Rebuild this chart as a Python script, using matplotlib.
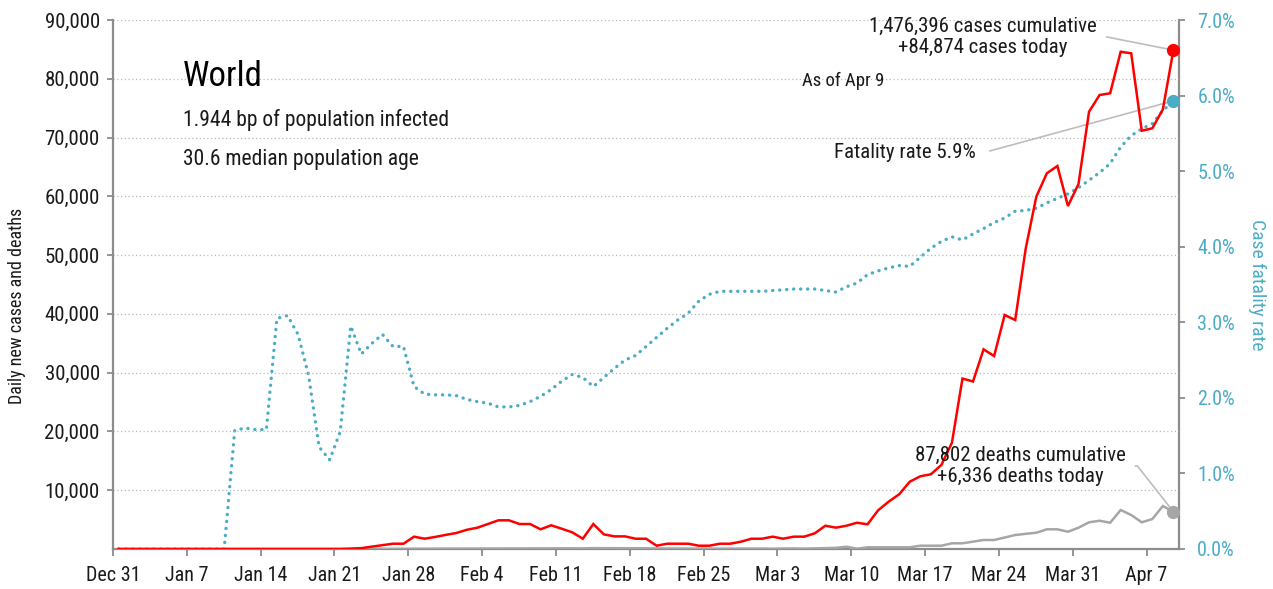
import matplotlib
matplotlib.use("Agg")
import matplotlib.pyplot as plt
from matplotlib import font_manager as fm
import pandas as pd

# pick a condensed sans if one is installed, otherwise Roboto
_cond = []
for f in fm.fontManager.ttflist:
    st = f.stretch
    is_cond = (isinstance(st, str) and 'condensed' in st) or (isinstance(st, (int, float)) and st < 500)
    if is_cond or 'Condensed' in f.name or 'Narrow' in f.name:
        if 'Mono' not in f.name and 'Serif' not in f.name and 'CJK' not in f.name:
            _cond.append((f.name, st))
_pref = ['Roboto Condensed', 'Liberation Sans Narrow', 'Noto Sans', 'DejaVu Sans', 'Open Sans']
FAMILY, STRETCH, SCALE = 'Roboto', 'normal', 0.93
for p in _pref:
    hits = [c for c in _cond if c[0] == p or c[0].startswith(p)]
    if hits:
        FAMILY, STRETCH, SCALE = hits[0][0], hits[0][1], 1.0
        break
plt.rcParams['font.family'] = [FAMILY, 'Roboto', 'DejaVu Sans']
plt.rcParams['font.stretch'] = STRETCH

# ---------------- data ----------------
dates = pd.date_range('2019-12-31 13:00', periods=101, freq='D')

new_cases = [0] * 22 + [
    60, 150, 400, 650, 900, 900, 2100, 1750, 2050, 2400,
    2720, 3270, 3620, 4250, 4880, 4880, 4250, 4250, 3350, 4030,
    3450, 2840, 1750, 4250, 2490, 2150, 2150, 1750, 1750, 560,
    900, 900, 900, 560, 560, 900, 900, 1250, 1750, 1750,
    2100, 1750, 2100, 2100, 2670, 3960, 3630, 3960, 4470, 4200,
    6580, 8050, 9310, 11450, 12370, 12710, 14290, 18080, 29000, 28500,
    33970, 32830, 39810, 38960, 51150, 59930, 63920, 65160, 58350, 62100,
    74400, 77240, 77530, 84600, 84330, 71160, 71570, 74800, 84874]

new_deaths = [0] * 22 + [
    10, 15, 20, 25, 30, 40, 45, 50, 60, 60,
    65, 70, 75, 80, 90, 95, 100, 100, 110, 110,
    120, 120, 100, 150, 140, 140, 130, 130, 120, 100,
    90, 80, 70, 60, 60, 50, 60, 70, 60, 80,
    50, 80, 100, 60, 110, 150, 200, 390, 50, 290,
    290, 290, 290, 290, 560, 560, 560, 970, 970, 1250,
    1530, 1530, 1950, 2380, 2580, 2770, 3350, 3350, 2940, 3620,
    4540, 4810, 4470, 6630, 5780, 4540, 5100, 7310, 6336]

fatality_pct = [0] * 11 + [
    1.57, 1.60, 1.58, 1.58, 3.05, 3.09, 2.84, 2.30, 1.35, 1.18,
    1.55, 2.95, 2.58, 2.72, 2.84, 2.68, 2.68, 2.15, 2.05, 2.04,
    2.04, 2.03, 1.98, 1.95, 1.93, 1.88, 1.88, 1.90, 1.95, 2.02,
    2.11, 2.22, 2.31, 2.27, 2.15, 2.27, 2.39, 2.50, 2.56, 2.68,
    2.80, 2.92, 3.03, 3.12, 3.28, 3.37, 3.41, 3.41, 3.41, 3.41,
    3.41, 3.42, 3.43, 3.44, 3.44, 3.44, 3.42, 3.40, 3.47, 3.52,
    3.63, 3.68, 3.72, 3.75, 3.74, 3.86, 3.98, 4.07, 4.13, 4.09,
    4.17, 4.24, 4.32, 4.38, 4.47, 4.48, 4.51, 4.58, 4.64, 4.70,
    4.78, 4.88, 4.98, 5.10, 5.32, 5.47, 5.56, 5.63, 5.80, 5.93]

tick_dates = pd.date_range('2019-12-31', periods=15, freq='7D')
tick_labels = ['Dec 31', 'Jan 7', 'Jan 14', 'Jan 21', 'Jan 28', 'Feb 4', 'Feb 11',
               'Feb 18', 'Feb 25', 'Mar 3', 'Mar 10', 'Mar 17', 'Mar 24', 'Mar 31', 'Apr 7']
left_ticks = [10000, 20000, 30000, 40000, 50000, 60000, 70000, 80000, 90000]
right_ticks = [0, 1, 2, 3, 4, 5, 6, 7]

cum_cases = "1,476,396"
cum_deaths = "87,802"

# ---------------- style ----------------
RED = '#ff0000'
BLUE = '#4bacc6'
GRAY = '#a6a6a6'
AXIS = '#8c8c8c'
TXT = '#1a1a1a'
S = SCALE

W, H = 1273, 589
fig = plt.figure(figsize=(W / 100, H / 100), dpi=100)
ax = fig.add_axes([113 / W, 1 - 549 / H, (1179.3 - 113) / W, (549 - 20) / H])
ax2 = ax.twinx()

ax.set_zorder(2)
ax.patch.set_visible(False)
ax2.set_zorder(1)

ax.plot(dates, new_deaths, color=GRAY, lw=1.8, zorder=3, solid_joinstyle='miter')
ax.plot(dates, new_cases, color=RED, lw=1.8, zorder=4, solid_joinstyle='miter')
ax.plot(dates[-1:], new_cases[-1:], 'o', color=RED, ms=8.5, zorder=6)
ax.plot(dates[-1:], new_deaths[-1:], 'o', color=GRAY, ms=8.5, zorder=6)

ax2.plot(dates, fatality_pct, color=BLUE, lw=2.4, linestyle=(0, (0.05, 2.05)),
         dash_capstyle='round', solid_capstyle='round', zorder=3)

x0 = pd.Timestamp('2019-12-31')
ax.set_xlim(x0, x0 + pd.Timedelta(days=101.1))
ax.set_ylim(0, 90000)
ax2.set_ylim(0, 7)

ax.set_xticks(tick_dates)
ax.set_xticklabels(tick_labels)
ax.set_yticks(left_ticks)
ax.set_yticklabels([f"{v:,}" for v in left_ticks])
ax2.set_yticks(right_ticks)
ax2.set_yticklabels([f"{v:.1f}%" for v in right_ticks])

for a in (ax, ax2):
    a.spines['top'].set_visible(False)
ax.spines['right'].set_visible(False)
ax2.spines['left'].set_visible(False)
ax2.spines['bottom'].set_visible(False)
for s in ('left', 'bottom'):
    ax.spines[s].set_color(AXIS)
    ax.spines[s].set_linewidth(1.6)
ax2.spines['right'].set_color(AXIS)
ax2.spines['right'].set_linewidth(1.6)

ax.tick_params(axis='x', colors=AXIS, labelcolor=TXT, labelsize=14.5 * S, length=5, width=1.3, pad=7)
ax.tick_params(axis='y', colors=AXIS, labelcolor=TXT, labelsize=15 * S, length=4.5, width=1.3, pad=5)
ax2.tick_params(axis='y', colors=AXIS, labelcolor=BLUE, labelsize=14.5 * S, length=4, width=1.3, pad=9)

ax.yaxis.grid(True, color='#b8b8b8', linestyle=(0, (1, 2)), linewidth=0.9)
ax.set_axisbelow(True)

ax.set_ylabel('Daily new cases and deaths', fontsize=13 * S, color=TXT, labelpad=13)
ax.yaxis.label.set_y(0.46)
ax2.set_ylabel('Case fatality rate', fontsize=14 * S, color=BLUE, rotation=270, labelpad=22)

def fp(x, y):
    return (x, H - y)

fig.text(183 / W, 1 - 77 / H, 'World', fontsize=25 * S, color='black', va='center', ha='left')
fig.text(183 / W, 1 - 120 / H, '1.944 bp of population infected', fontsize=15.5 * S, color=TXT,
         va='center', ha='left')
fig.text(183 / W, 1 - 159 / H, '30.6 median population age', fontsize=15.5 * S, color=TXT,
         va='center', ha='left')
fig.text(843 / W, 1 - 81 / H, 'As of Apr 9', fontsize=13.5 * S, color=TXT, va='center', ha='center')

conn = dict(arrowstyle='-', color='#bdbdbd', lw=1.2, shrinkA=5, shrinkB=0)

ax.annotate(f"{cum_cases} cases cumulative\n+{new_cases[-1]:,} cases today",
            xy=(dates[-1], new_cases[-1]), xycoords='data',
            xytext=fp(983, 37), textcoords='figure pixels',
            ha='center', va='center', fontsize=15 * S, color=TXT, linespacing=1.1,
            arrowprops=dict(conn, relpos=(1, 0.5),
                            connectionstyle='arc,angleA=0,armA=10,angleB=0,armB=0,rad=0'),
            zorder=5)

ax2.annotate(f"Fatality rate {fatality_pct[-1]:.1f}%",
             xy=(dates[-1], fatality_pct[-1]), xycoords='data',
             xytext=fp(976, 152), textcoords='figure pixels',
             ha='right', va='center', fontsize=15 * S, color=TXT,
             arrowprops=dict(conn, relpos=(1, 0.5), shrinkA=8,
                             connectionstyle='arc,angleA=0,armA=10,angleB=0,armB=0,rad=0'))
ax2.plot(dates[-1:], fatality_pct[-1:], 'o', color=BLUE, ms=8.5, zorder=6)

ax.annotate(f"{cum_deaths} deaths cumulative\n+{new_deaths[-1]:,} deaths today",
            xy=(dates[-1], new_deaths[-1]), xycoords='data',
            xytext=fp(1020, 466), textcoords='figure pixels',
            ha='center', va='center', fontsize=15 * S, color=TXT, linespacing=1.1,
            arrowprops=dict(conn, relpos=(1, 0.5),
                            connectionstyle='arc,angleA=0,armA=12,angleB=0,armB=0,rad=0'),
            zorder=5)

fig.savefig('out.png', dpi=100)
